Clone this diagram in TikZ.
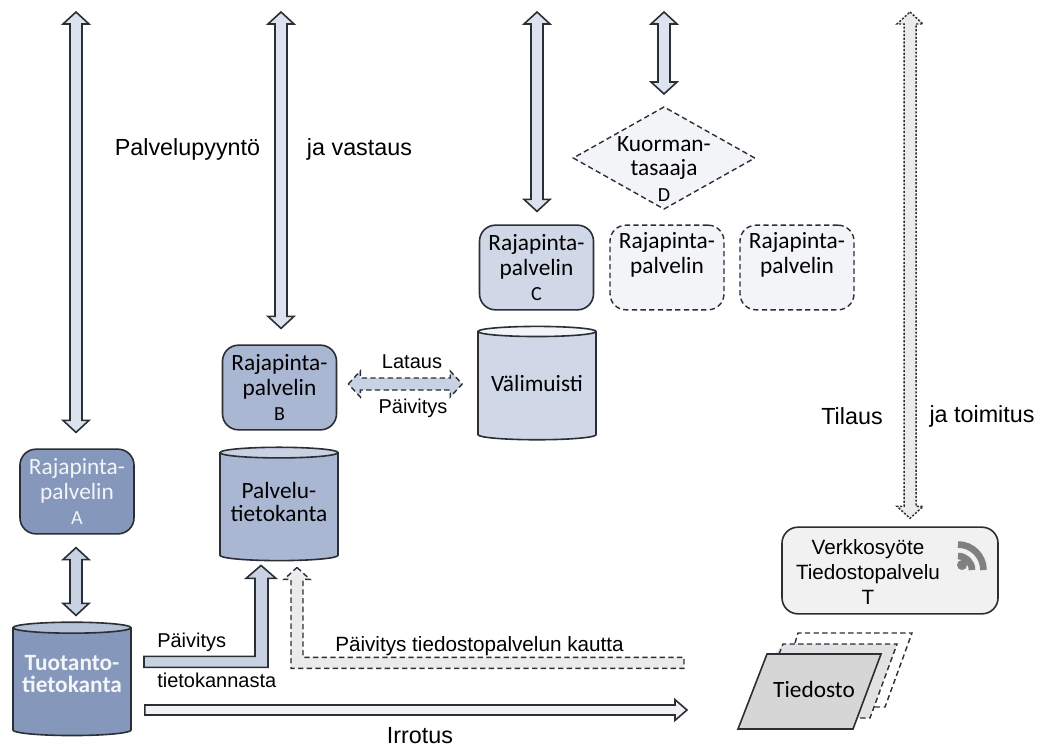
\documentclass[tikz,border=0pt]{standalone}
\usepackage{fontspec}
\setmainfont{Carlito}
\newfontfamily\arialfont{Liberation Sans}
\usetikzlibrary{calc,shapes.geometric}

\definecolor{edgecol}{HTML}{2A2E35}
\definecolor{blueA}{HTML}{8598BB}
\definecolor{blueB}{HTML}{AAB7D3}
\definecolor{blueC}{HTML}{D0D8E8}
\definecolor{blueTop}{HTML}{C9D2E3}
\definecolor{paleDash}{HTML}{F3F4F8}
\definecolor{arrowcol}{HTML}{DDE3EE}
\definecolor{greyDash}{HTML}{EBEBEB}
\definecolor{feedgrey}{HTML}{F1F1F1}
\definecolor{filegrey}{HTML}{D6D6D6}
\definecolor{rssgrey}{HTML}{808080}

\tikzset{
	edge/.style={draw=edgecol,line width=1.2pt},
	dashedge/.style={draw=edgecol,line width=1.05pt,dash pattern=on 4pt off 2.5pt},
	server/.style={edge,rounded corners=12pt,minimum width=85.5pt,minimum height=63.5pt,align=center,inner sep=0pt,font=\fontsize{17.5}{18.5}\selectfont},
	database/.style={edge,cylinder,shape border rotate=90,aspect=0.11,minimum width=88.5pt,minimum height=85pt,align=center,inner sep=0pt,font=\fontsize{17.5}{17}\selectfont},
	caption/.style={font=\arialfont\fontsize{15}{18}\selectfont,inner sep=0pt},
	bigcaption/.style={font=\arialfont\fontsize{17.5}{20}\selectfont,inner sep=0pt},
	fatarrow/.style={line join=miter,to path={
		(\tikztostart)
		-- ($(\tikztostart)!9pt!(\tikztotarget)!9.75pt!90:(\tikztotarget)$)
		-- ($(\tikztostart)!9pt!(\tikztotarget)!4.5pt!90:(\tikztotarget)$)
		-- ($(\tikztotarget)!9pt!(\tikztostart)!4.5pt!-90:(\tikztostart)$)
		-- ($(\tikztotarget)!9pt!(\tikztostart)!9.75pt!-90:(\tikztostart)$)
		-- (\tikztotarget)
		-- ($(\tikztotarget)!9pt!(\tikztostart)!9.75pt!90:(\tikztostart)$)
		-- ($(\tikztotarget)!9pt!(\tikztostart)!4.5pt!90:(\tikztostart)$)
		-- ($(\tikztostart)!9pt!(\tikztotarget)!4.5pt!-90:(\tikztotarget)$)
		-- ($(\tikztostart)!9pt!(\tikztotarget)!9.75pt!-90:(\tikztotarget)$)
		-- cycle}},
	longarrow/.style={line join=miter,to path={
		(\tikztostart)
		-- ($(\tikztostart)!3.75pt!90:(\tikztotarget)$)
		-- ($(\tikztotarget)!9pt!(\tikztostart)!3.75pt!-90:(\tikztostart)$)
		-- ($(\tikztotarget)!9pt!(\tikztostart)!7.75pt!-90:(\tikztostart)$)
		-- (\tikztotarget)
		-- ($(\tikztotarget)!9pt!(\tikztostart)!7.75pt!90:(\tikztostart)$)
		-- ($(\tikztotarget)!9pt!(\tikztostart)!3.75pt!90:(\tikztostart)$)
		-- ($(\tikztostart)!3.75pt!-90:(\tikztotarget)$)
		-- cycle}}
}

\begin{document}
\begin{tikzpicture}[x=0.75pt,y=-0.75pt]
	\useasboundingbox (0,0) rectangle (1044,747);

	%servers
	\node[server,fill=blueA,text=white!90!blueA] (rajaA) at (77,491.5) {Rajapinta-\\palvelin\\[0.5pt]{\fontsize{15}{16}\selectfont A}};
	\node[server,fill=blueB] (rajaB) at (279.5,387.5) {Rajapinta-\\palvelin\\[0.5pt]{\fontsize{15}{16}\selectfont B}};
	\node[server,fill=blueC] (rajaC) at (536.5,267.5) {Rajapinta-\\palvelin\\[0.5pt]{\fontsize{15}{16}\selectfont C}};
	\node[server,dashedge,fill=paleDash] (rajaD1) at (667,267.5) {Rajapinta-\\palvelin\\[0.5pt]{\fontsize{10}{11}\selectfont\strut}};
	\node[server,dashedge,fill=paleDash] (rajaD2) at (797,267.5) {Rajapinta-\\palvelin\\[0.5pt]{\fontsize{10}{11}\selectfont\strut}};
	\node[server,fill=feedgrey,minimum width=162pt,minimum height=65pt] (feed) at (890,570.5) { }; %feed box

	%databases
	\node[database,cylinder uses custom fill,cylinder body fill=blueA,cylinder end fill=blueTop!70!blueA,text=white!90!blueA,font=\bfseries\fontsize{17.5}{17}\selectfont] (tuotanto) at (72,682) {Tuotanto-\\tietokanta\\[-5pt]\mbox{}};
	\node[database,cylinder uses custom fill,cylinder body fill=blueB,cylinder end fill=blueTop] (palvelu) at (279,507) {Palvelu-\\tietokanta\\[-9.5pt]\mbox{}};
	\node[database,cylinder uses custom fill,cylinder body fill=blueC,cylinder end fill=paleDash] (valimuisti) at (537,386) {Välimuisti\\[-12.5pt]\mbox{}};

	%load balancer
	\node[diamond,dashedge,fill=paleDash,minimum width=136.5pt,minimum height=77pt,aspect=1.77,inner sep=0pt] (tasaaja) at (664,158) { };
	\node[align=center,inner sep=0pt,font=\fontsize{17.5}{18.5}\selectfont] (tasaajatext) at (664,169) {Kuorman-\\tasaaja\\[1pt]{\fontsize{15}{16}\selectfont D}};

	%free ends at the top
	\coordinate (topA) at (76,12);
	\coordinate (topB) at (281,12);
	\coordinate (topC) at (537,12);
	\coordinate (topD) at (664,12);
	\coordinate (topT) at (910,12);

	%request arrows
	\draw[edge,fill=arrowcol,fatarrow] (topA) to ($(rajaA.north)+(-1,-16)$);
	\draw[edge,fill=arrowcol,fatarrow] (topB) to ($(rajaB.north)+(1.5,-16)$);
	\draw[edge,fill=arrowcol,fatarrow] (topC) to ($(rajaC.north)+(0.5,-13)$);
	\draw[edge,fill=arrowcol,fatarrow] (topD) to ($(tasaaja.north)+(0,-12)$);
	\draw[draw=edgecol,line width=1.1pt,dash pattern=on 1.6pt off 1.2pt,fill=greyDash,fatarrow] (topT) to ($(feed.north)+(20,-8)$);
	\draw[edge,fill=blueTop,fatarrow] ($(rajaA.south)+(-1,13)$) to ($(tuotanto.north)+(4,-6)$);
	\draw[dashedge,fill=blueTop,fatarrow] ($(rajaB.east)+(11,-3.5)$) to ($(valimuisti.west)+(-15,-2)$);

	%update arrows
	\coordinate (paivTip) at ($(palvelu.south)+(-18,4)$);
	\draw[edge,fill=blueTop,line join=miter] (paivTip) -- ++(15,13) -- ++(-8,0) -- ++(0,89) -- ++(-124,0) -- ++(0,-11) -- ++(111,0) -- ++(0,-78) -- ++(-9,0) -- cycle;
	\coordinate (kauttaTip) at ($(palvelu.south)+(18,6)$);
	\draw[dashedge,fill=greyDash,line join=miter] (kauttaTip) -- ++(13,12) -- ++(-7,0) -- ++(0,78) -- ++(381,0) -- ++(0,11) -- ++(-393,0) -- ++(0,-89) -- ++(-7,0) -- cycle;
	\draw[edge,fill=feedgrey,longarrow] ($(tuotanto.east)+(13,28)$) to (687,710);

	%files
	\draw[dashedge] (795,643) -- (798,633) -- (912,633) -- (885,707) -- (873,707);
	\fill[filegrey!70!white] (783,644) -- (897,644) -- (870,718) -- (850,718) -- (770,660) -- cycle;
	\draw[dashedge] (779,654) -- (783,644) -- (897,644) -- (870,718) -- (858,718);
	\draw[edge,fill=filegrey,line join=miter] (767,654) -- (881,654) -- (853,729) -- (738,729) -- cycle;
	\node[inner sep=0pt,font=\fontsize{17.5}{18.5}\selectfont] (tiedosto) at (814,689) {Tiedosto};

	%rss symbol
	\fill[rssgrey] (962,565) circle (5);
	\draw[rssgrey,line width=5pt] (958,544.5) arc[start angle=-90,end angle=0,radius=25.5];
	\draw[rssgrey,line width=5pt] (958,556) arc[start angle=-90,end angle=0,radius=14];
	\node[caption,align=center,text=black,font=\arialfont\fontsize{15.5}{18.75}\selectfont] (feedtext) at (868,572) {Verkkosyöte\\Tiedostopalvelu\\T};

	%texts
	\node[bigcaption] (pyynto) at (187.5,149) {Palvelupyyntö};
	\node[bigcaption] (vastaus) at (359.5,149) {ja vastaus};
	\node[bigcaption] (tilaus) at (852,416) {Tilaus};
	\node[bigcaption] (toimitus) at (982,416) {ja toimitus};
	\node[caption] (lataus) at (412,362) {Lataus};
	\node[caption] (paivitysB) at (413,408) {Päivitys};
	\node[caption,anchor=west] (paivitys) at (157,642) {Päivitys};
	\node[caption,anchor=west] (kannasta) at (157,680) {tietokannasta};
	\node[caption,anchor=west,font=\arialfont\fontsize{15.5}{18}\selectfont] (kautta) at (335,646) {Päivitys tiedostopalvelun kautta};
	\node[bigcaption] (irrotus) at (420,736) {Irrotus};
\end{tikzpicture}
\end{document}
